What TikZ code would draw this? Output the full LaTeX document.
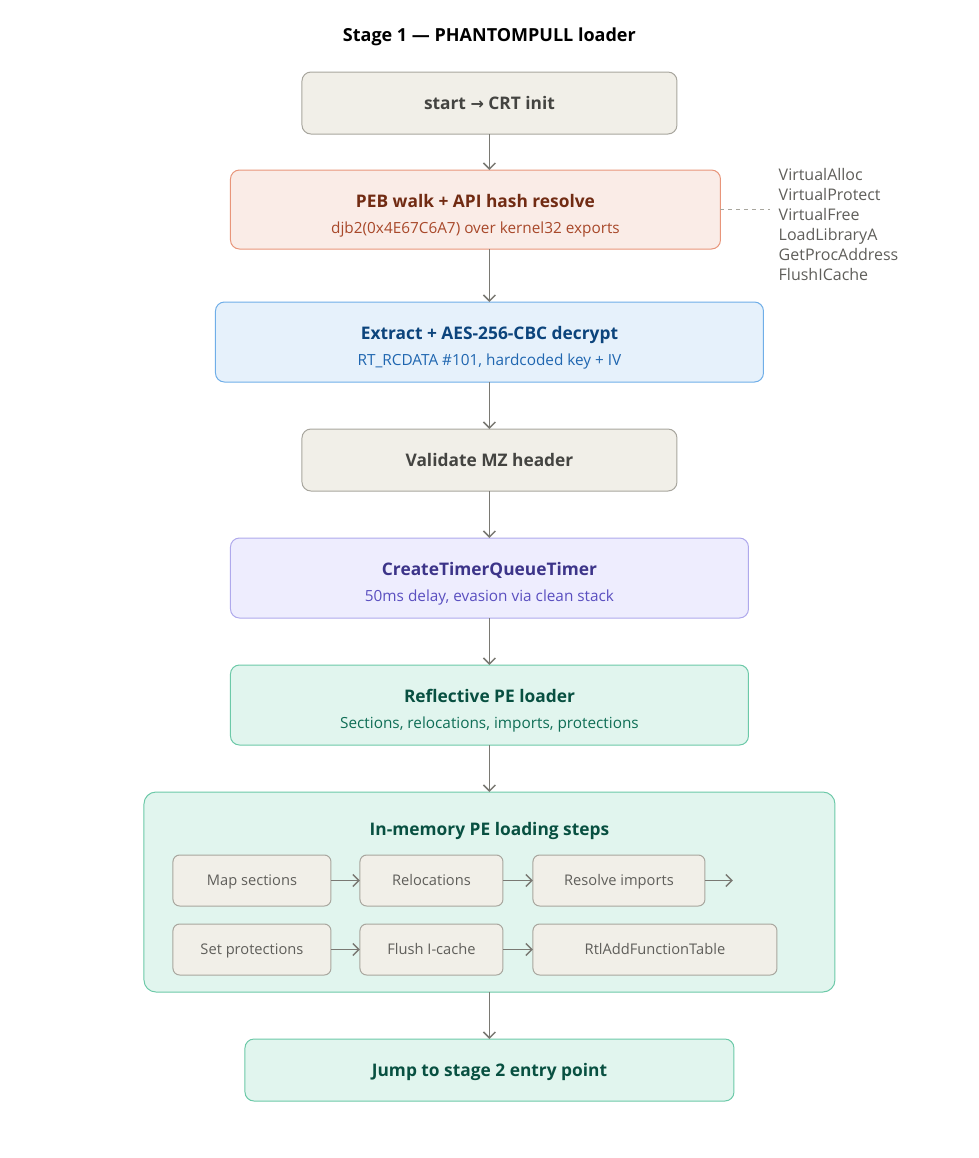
\documentclass[tikz,border=0pt]{standalone}
\usepackage{fontspec}
\setmainfont{Open Sans}
\newfontfamily\symfont{DejaVu Sans}
\usetikzlibrary{positioning,arrows.meta}

\definecolor{inkgray}{HTML}{444441}
\definecolor{softgray}{HTML}{5F5E5A}
\definecolor{linegray}{HTML}{7A7973}
\definecolor{sandfill}{HTML}{F1EFE8}
\definecolor{sandline}{HTML}{A8A69E}
\definecolor{coralfill}{HTML}{FAECE7}
\definecolor{coralline}{HTML}{E8957A}
\definecolor{coraltitle}{HTML}{712B13}
\definecolor{coralsub}{HTML}{A8482A}
\definecolor{bluefill}{HTML}{E6F1FB}
\definecolor{blueline}{HTML}{6FAEE8}
\definecolor{bluetitle}{HTML}{0C447C}
\definecolor{bluesub}{HTML}{1F66B0}
\definecolor{violetfill}{HTML}{EEEDFE}
\definecolor{violetline}{HTML}{AFA9EC}
\definecolor{violettitle}{HTML}{3C3489}
\definecolor{violetsub}{HTML}{5A4FC0}
\definecolor{mintfill}{HTML}{E1F5EE}
\definecolor{mintline}{HTML}{6CC9A8}
\definecolor{minttitle}{HTML}{085041}
\definecolor{mintsub}{HTML}{0F6E56}

\tikzset{
  basebox/.style={draw, rounded corners=6.75pt, line width=0.75pt,
    outer sep=0pt, align=center, inner sep=2pt},
  oneline/.style={text height=12.5pt, text depth=2.5pt},
  sandbox/.style={basebox, oneline, fill=sandfill, draw=sandline, text=inkgray,
    font=\fontsize{13}{16}\selectfont\bfseries},
  coralbox/.style={basebox, fill=coralfill, draw=coralline},
  bluebox/.style={basebox, fill=bluefill, draw=blueline},
  violetbox/.style={basebox, fill=violetfill, draw=violetline},
  mintbox/.style={basebox, fill=mintfill, draw=mintline},
  substep/.style={draw=sandline, fill=sandfill, rounded corners=5pt,
    line width=0.75pt, outer sep=0pt, text=softgray, minimum height=38.25pt,
    text height=10.5pt, text depth=2.5pt,
    font=\fontsize{11}{13}\selectfont},
  flow/.style={draw=linegray, line width=1.1pt,
    -{Straight Barb[length=4.5pt,width=9pt]}}
}
\newcommand{\boxtitle}[2]{\textcolor{#1}{\fontsize{13}{16}\selectfont\bfseries\rule{0pt}{19pt}#2}}
\newcommand{\boxsub}[2]{\textcolor{#1}{\fontsize{11.5}{14}\selectfont #2}}

\begin{document}
\begin{tikzpicture}[node distance=35.25pt]

\useasboundingbox (0,0) rectangle (734.25pt,-868.5pt);

% Title
\node[text=black, font=\fontsize{13.5}{16}\selectfont\bfseries]
  (title) at (367pt,-27.75pt) {Stage 1 — PHANTOMPULL loader};

% Start
\node[sandbox,
    minimum width=281.25pt,
    minimum height=46.5pt] (crtinit) at (367.1pt,-77.25pt)
    {start {\symfont\fontsize{12}{14}\selectfont →} CRT init};

% API resolution
\node[coralbox,
    below=27pt of crtinit,
    xshift=-10.5pt,
    minimum width=367.5pt,
    minimum height=59.25pt] (pebwalk)
    {\boxtitle{coraltitle}{PEB walk + API hash resolve}\\[7.5pt]
     \boxsub{coralsub}{djb2(0x4E67C6A7) over kernel32 exports}};

% Resolved API list
\node[right=37.5pt of pebwalk,
    yshift=-11.25pt,
    align=left,
    inner xsep=6pt,
    text=softgray,
    font=\fontsize{12}{15}\selectfont] (apilist)
    {VirtualAlloc\\VirtualProtect\\VirtualFree\\LoadLibraryA\\GetProcAddress\\FlushICache};

% Decrypt payload
\node[bluebox,
    below=39.75pt of pebwalk,
    xshift=10.5pt,
    minimum width=411pt,
    minimum height=60pt] (decrypt)
    {\boxtitle{bluetitle}{Extract + AES-256-CBC decrypt}\\[7.5pt]
     \boxsub{bluesub}{RT\_RCDATA \#101, hardcoded key + IV}};

% MZ check
\node[sandbox,
    below=of decrypt,
    minimum width=281.25pt,
    minimum height=46.5pt] (mzcheck) {Validate MZ header};

% Timer
\node[violetbox,
    below=of mzcheck,
    minimum width=388.5pt,
    minimum height=60pt] (timerq)
    {\boxtitle{violettitle}{CreateTimerQueueTimer}\\[7.5pt]
     \boxsub{violetsub}{50ms delay, evasion via clean stack}};

% Reflective loader
\node[mintbox,
    below=of timerq,
    minimum width=388.5pt,
    minimum height=60pt] (reflect)
    {\boxtitle{minttitle}{Reflective PE loader}\\[7.5pt]
     \boxsub{mintsub}{Sections, relocations, imports, protections}};

% Loading steps group
\node[mintbox,
    rounded corners=9pt,
    below=of reflect,
    minimum width=518.25pt,
    minimum height=150pt] (stepgroup) {};

\node[text=minttitle, font=\fontsize{13}{16}\selectfont\bfseries]
  (steptitle) at ([yshift=-29.25pt]stepgroup.north) {In-memory PE loading steps};

\node[substep, anchor=north west, minimum width=118.5pt]
  (mapsec) at ([xshift=21.75pt,yshift=-47.25pt]stepgroup.north west) {Map sections};
\node[substep, right=21.75pt of mapsec, minimum width=107.25pt] (reloc) {Relocations};
\node[substep, right=22.5pt of reloc, minimum width=129pt] (imports) {Resolve imports};
\coordinate[right=21pt of imports] (wrapend);

\node[substep, below=13.5pt of mapsec, minimum width=118.5pt] (setprot) {Set protections};
\node[substep, right=21.75pt of setprot, minimum width=107.25pt] (flushic) {Flush I-cache};
\node[substep, right=22.5pt of flushic, minimum width=183pt] (rtladd) {RtlAddFunctionTable};

% Jump
\node[mintbox, oneline,
    below=of stepgroup,
    minimum width=366.75pt,
    minimum height=46.5pt] (jump) {\textcolor{minttitle}{\fontsize{13}{16}\selectfont\bfseries Jump to stage 2 entry point}};

% Arrows
\draw[flow] (crtinit) -- (crtinit.south |- pebwalk.north);
\draw[flow] (crtinit.south |- pebwalk.south) -- (decrypt);
\draw[flow] (decrypt) -- (mzcheck);
\draw[flow] (mzcheck) -- (timerq);
\draw[flow] (timerq) -- (reflect);
\draw[flow] (reflect) -- (stepgroup);
\draw[flow] (stepgroup) -- (jump);

\draw[flow] (mapsec) -- (reloc);
\draw[flow] (reloc) -- (imports);
\draw[flow] (imports) -- (wrapend);
\draw[flow] (setprot) -- (flushic);
\draw[flow] (flushic) -- (rtladd);

\draw[sandline, dashed, line width=0.75pt] (pebwalk.east) -- (pebwalk.east -| apilist.west);

\end{tikzpicture}
\end{document}
